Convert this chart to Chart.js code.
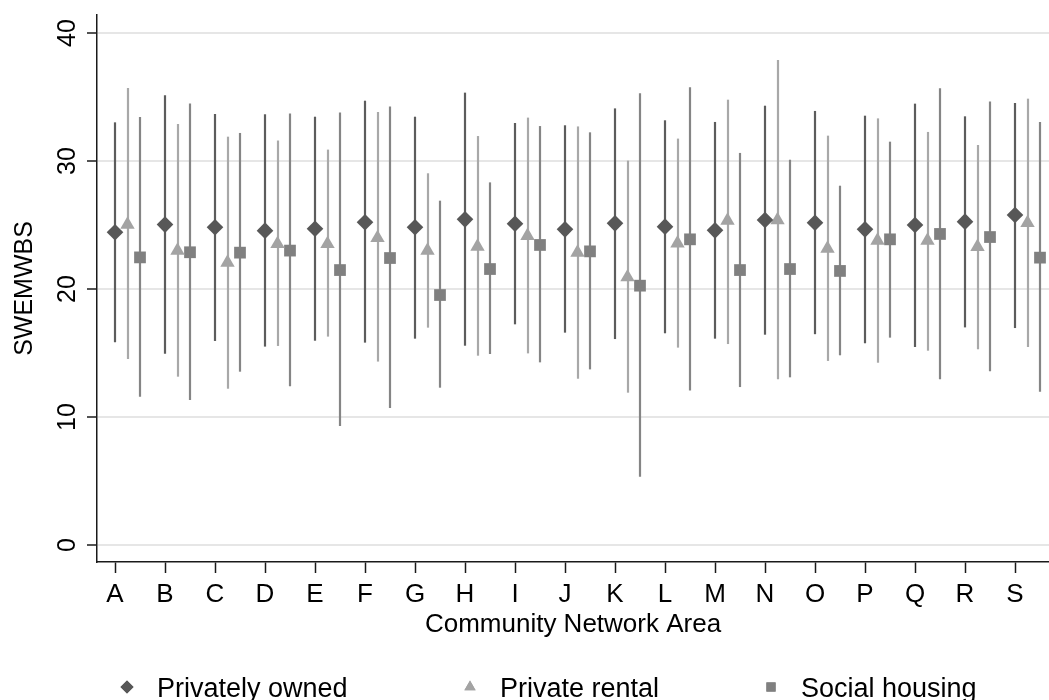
<!DOCTYPE html>
<html>
<head>
<meta charset="utf-8">
<script src="https://cdn.jsdelivr.net/npm/chart.js@4/dist/chart.umd.min.js"></script>
<style>
html,body{margin:0;padding:0;background:#fff;}
#wrap{width:1049px;height:700px;position:relative;}
</style>
</head>
<body>
<div id="wrap"><canvas id="c" width="1049" height="700"></canvas></div>
<script>
const categories = ['A','B','C','D','E','F','G','H','I','J','K','L','M','N','O','P','Q','R','S'];
const yTickValues = [0, 10, 20, 30, 40];
const seriesNames = ['Privately owned', 'Private rental', 'Social housing'];

const ownedMean = [24.43, 25.03, 24.82, 24.56, 24.71, 25.21, 24.82, 25.44, 25.10, 24.66, 25.13, 24.87, 24.58, 25.39, 25.18, 24.66, 25.00, 25.26, 25.78];
const ownedLow  = [15.84, 14.95, 15.94, 15.50, 15.96, 15.81, 16.12, 15.57, 17.24, 16.59, 16.09, 16.54, 16.12, 16.43, 16.47, 15.76, 15.47, 17.00, 16.95];
const ownedHigh = [33.02, 35.13, 33.67, 33.65, 33.46, 34.71, 33.46, 35.34, 32.97, 32.79, 34.11, 33.18, 33.05, 34.32, 33.91, 33.54, 34.48, 33.49, 34.53];

const rentalMean = [25.03, 23.00, 22.06, 23.52, 23.52, 23.99, 23.00, 23.31, 24.15, 22.85, 20.92, 23.57, 25.34, 25.39, 23.16, 23.78, 23.78, 23.29, 25.16];
const rentalLow  = [14.53, 13.15, 12.21, 15.55, 16.28, 14.33, 16.98, 14.79, 14.97, 12.99, 11.90, 15.42, 15.70, 12.94, 14.38, 14.24, 15.18, 15.29, 15.47];
const rentalHigh = [35.70, 32.89, 31.90, 31.60, 30.89, 33.83, 29.04, 31.95, 33.39, 32.70, 30.03, 31.75, 34.79, 37.89, 31.98, 33.33, 32.27, 31.25, 34.87];

const socialMean = [22.47, 22.87, 22.84, 23.00, 21.48, 22.42, 19.53, 21.56, 23.44, 22.94, 20.26, 23.88, 21.48, 21.56, 21.41, 23.88, 24.30, 24.06, 22.45];
const socialLow  = [11.59, 11.33, 13.54, 12.40, 9.30, 10.70, 12.29, 14.92, 14.27, 13.72, 5.34, 12.08, 12.34, 13.10, 14.82, 16.20, 12.94, 13.57, 11.98];
const socialHigh = [33.44, 34.50, 32.19, 33.72, 33.78, 34.25, 26.90, 28.33, 32.73, 32.24, 35.29, 35.76, 30.63, 30.10, 28.07, 31.51, 35.68, 34.64, 33.05];

const FONT = '"Liberation Sans", Arial, Helvetica, sans-serif';
const styles = [
  {marker:'rectRot', color:'#575757', line:'#5c5c5c', radius:8.3, offset:0},
  {marker:'triangle', color:'#a3a3a3', line:'#a8a8a8', radius:8.3, offset:0.25},
  {marker:'rect', color:'#808080', line:'#858585', radius:8.3, offset:0.5}
];
const means = [ownedMean, rentalMean, socialMean];
const lows = [ownedLow, rentalLow, socialLow];
const highs = [ownedHigh, rentalHigh, socialHigh];

const datasets = seriesNames.map((name, s) => ({
  label: name,
  data: categories.map((c, i) => ({x: i + 1 + styles[s].offset, y: means[s][i], lo: lows[s][i], hi: highs[s][i]})),
  pointStyle: styles[s].marker,
  pointRadius: styles[s].radius,
  pointHoverRadius: styles[s].radius,
  backgroundColor: styles[s].color,
  borderColor: styles[s].color,
  borderWidth: 0,
  showLine: false
}));

const errorBars = {
  id: 'errorBars',
  beforeDatasetsDraw(chart) {
    const ctx = chart.ctx, xs = chart.scales.x, ys = chart.scales.y;
    ctx.save();
    ctx.beginPath();
    ctx.rect(chart.chartArea.left, chart.chartArea.top, chart.chartArea.right - chart.chartArea.left, chart.chartArea.bottom - chart.chartArea.top);
    ctx.clip();
    chart.data.datasets.forEach((ds, s) => {
      ctx.strokeStyle = styles[s].line;
      ctx.lineWidth = 2.2;
      ds.data.forEach(p => {
        const px = Math.round(xs.getPixelForValue(p.x));
        ctx.beginPath();
        ctx.moveTo(px, ys.getPixelForValue(p.lo));
        ctx.lineTo(px, ys.getPixelForValue(p.hi));
        ctx.stroke();
      });
    });
    ctx.restore();
  }
};

const extras = {
  id: 'extras',
  afterDraw(chart) {
    const ctx = chart.ctx, ys = chart.scales.y;
    ctx.save();
    ctx.fillStyle = '#000';
    ctx.font = '25px ' + FONT;
    yTickValues.forEach(v => {
      const py = ys.getPixelForValue(v);
      ctx.save();
      ctx.translate(74.5, py);
      ctx.rotate(-Math.PI / 2);
      ctx.textAlign = 'center';
      ctx.textBaseline = 'alphabetic';
      ctx.fillText(String(v), 0, 0);
      ctx.restore();
    });
    const lx = [127, 470, 771];
    const ly = 687;
    seriesNames.forEach((name, s) => {
      ctx.fillStyle = styles[s].color;
      Chart.helpers.drawPoint(ctx, {pointStyle: styles[s].marker, radius: 6.5, borderWidth: 0}, lx[s], ly);
      ctx.fill();
      ctx.fillStyle = '#000';
      ctx.font = '27px ' + FONT;
      ctx.textAlign = 'left';
      ctx.textBaseline = 'alphabetic';
      ctx.fillText(name, lx[s] + 30, 697);
    });
    ctx.restore();
  }
};

new Chart(document.getElementById('c'), {
  type: 'scatter',
  data: {datasets},
  plugins: [errorBars, extras],
  options: {
    responsive: false,
    animation: false,
    events: [],
    layout: {autoPadding: false, padding: {top: 15, right: 0, bottom: 55, left: 0}},
    plugins: {legend: {display: false}, tooltip: {enabled: false}, title: {display: false}},
    scales: {
      x: {
        type: 'linear',
        min: 0.64,
        max: 19.68,
        afterBuildTicks(scale) { scale.ticks = categories.map((c, i) => ({value: i + 1})); },
        afterFit(scale) { scale.height = 83; },
        grid: {drawOnChartArea: false, drawTicks: true, tickLength: 11, tickColor: '#1a1a1a', tickWidth: 1.5},
        border: {display: true, color: '#1a1a1a', width: 1.5},
        ticks: {
          autoSkip: false, maxRotation: 0, minRotation: 0,
          color: '#000', font: {family: FONT, size: 26}, padding: 6,
          callback: (v) => categories[Math.round(v) - 1] || ''
        },
        title: {display: true, text: 'Community Network Area', color: '#000', font: {family: FONT, size: 26}, padding: {top: 0, bottom: 5}}
      },
      y: {
        min: -1.328,
        max: 41.406,
        afterBuildTicks(scale) { scale.ticks = yTickValues.map(v => ({value: v})); },
        afterFit(scale) { scale.width = 97; },
        grid: {color: '#e6e6e6', lineWidth: 2, drawTicks: true, tickLength: 10, tickColor: '#1a1a1a', tickWidth: 1.5},
        border: {display: true, color: '#1a1a1a', width: 1.5},
        ticks: {display: false},
        title: {display: true, text: 'SWEMWBS', color: '#000', font: {family: FONT, size: 25}, padding: {top: 10, bottom: 0}}
      }
    }
  }
});
</script>
</body>
</html>
